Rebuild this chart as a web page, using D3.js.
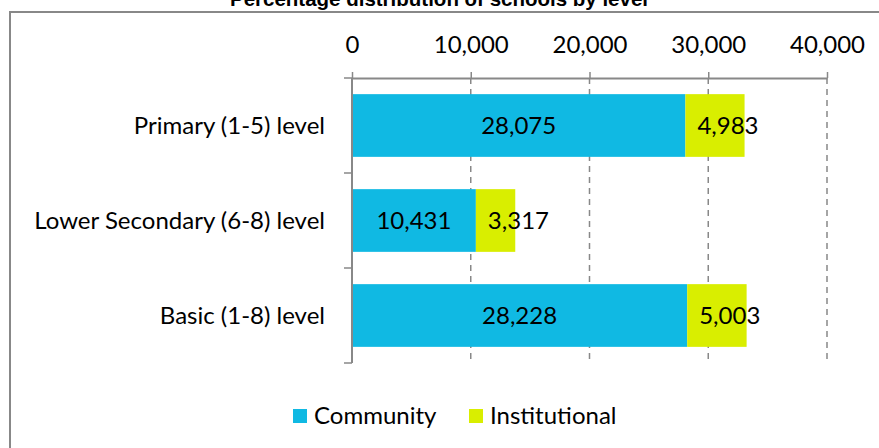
<!DOCTYPE html>
<html>
<head>
<meta charset="utf-8">
<script src="https://cdn.jsdelivr.net/npm/d3@7"></script>
<style>
  body { margin: 0; background: #fff; }
  svg { display: block; }
  text { font-family: Lato, "Open Sans", sans-serif; fill: #000; }
</style>
</head>
<body>
<svg id="chart" width="879" height="448"></svg>
<script>
// donnees
const categories = ["Primary (1-5) level", "Lower Secondary (6-8) level", "Basic (1-8) level"];
const community = [28075, 10431, 28228];
const institutional = [4983, 3317, 5003];
const seriesNames = ["Community", "Institutional"];
const colors = ["#10b9e3", "#d9ee00"];
const tickValues = [0, 10000, 20000, 30000, 40000];

const svg = d3.select("#chart");
const fmt = d3.format(",");

// cadre
svg.append("rect")
  .attr("x", 10).attr("y", 12).attr("width", 900).attr("height", 460)
  .attr("fill", "none").attr("stroke", "#888").attr("stroke-width", 2);

// titre (coupe en haut)
svg.append("text")
  .attr("x", 439).attr("y", 6)
  .attr("text-anchor", "middle")
  .style("font-family", "'Liberation Sans Narrow', 'Liberation Sans', Arial, sans-serif")
  .style("font-weight", "bold")
  .style("font-size", "20.5px")
  .text("Percentage distribution of schools by level");

const x = d3.scaleLinear().domain([0, 40000]).range([352, 827]);
const y = d3.scaleBand().domain(categories).range([78, 363]).paddingInner(0.34).paddingOuter(0.17);

// grille
svg.append("g")
  .selectAll("line")
  .data(tickValues.slice(1))
  .join("line")
  .attr("x1", d => x(d)).attr("x2", d => x(d))
  .attr("y1", 78).attr("y2", 363)
  .attr("stroke", "#888").attr("stroke-width", 1.5)
  .attr("stroke-dasharray", "6,5");

// barres empilees
const rows = categories.map((c, i) => ({ cat: c, vals: [community[i], institutional[i]] }));
rows.forEach(r => {
  let start = 0;
  r.vals.forEach((v, k) => {
    svg.append("rect")
      .attr("x", x(start)).attr("y", y(r.cat))
      .attr("width", x(start + v) - x(start)).attr("height", y.bandwidth())
      .attr("fill", colors[k]);
    // petites valeurs : libelle cale a gauche du segment
    const lbl = svg.append("text")
      .attr("y", y(r.cat) + y.bandwidth() / 2)
      .attr("dy", "0.35em")
      .style("font-size", "24px")
      .text(fmt(v));
    if (k === 0) {
      lbl.attr("x", (x(start) + x(start + v)) / 2).attr("text-anchor", "middle");
    } else {
      lbl.attr("x", x(start) + 12).attr("text-anchor", "start");
    }
    start += v;
  });
});

// axe du haut
const xAxis = svg.append("g")
  .attr("transform", "translate(0,78)")
  .call(d3.axisTop(x).tickValues(tickValues).tickFormat(fmt).tickSize(6).tickSizeOuter(0).tickPadding(19));
xAxis.select(".domain").attr("stroke", "#888").attr("stroke-width", 2);
xAxis.selectAll(".tick line").attr("stroke", "#888").attr("stroke-width", 1.5);
xAxis.selectAll(".tick text").style("font-size", "24px").style("font-family", "Lato, 'Open Sans', sans-serif");

// axe gauche
const yAxis = svg.append("g").attr("transform", "translate(352,0)");
yAxis.append("line").attr("x1", 0).attr("x2", 0).attr("y1", 78).attr("y2", 363)
  .attr("stroke", "#888").attr("stroke-width", 2);
yAxis.selectAll("line.tk")
  .data([78, 78 + 95, 78 + 190, 363])
  .join("line").attr("class", "tk")
  .attr("x1", -8).attr("x2", 0).attr("y1", d => d).attr("y2", d => d)
  .attr("stroke", "#888").attr("stroke-width", 1.5);
yAxis.selectAll("text")
  .data(categories)
  .join("text")
  .attr("x", -27)
  .attr("y", d => y(d) + y.bandwidth() / 2)
  .attr("dy", "0.35em")
  .attr("text-anchor", "end")
  .style("font-size", "24px")
  .text(d => d);

// legende
const legendX = [293, 469];
const legend = svg.append("g");
seriesNames.forEach((n, i) => {
  legend.append("rect")
    .attr("x", legendX[i]).attr("y", 409).attr("width", 14).attr("height", 14)
    .attr("fill", colors[i]);
  legend.append("text")
    .attr("x", legendX[i] + 21).attr("y", 416).attr("dy", "0.35em")
    .style("font-size", "24px")
    .text(n);
});
</script>
</body>
</html>
